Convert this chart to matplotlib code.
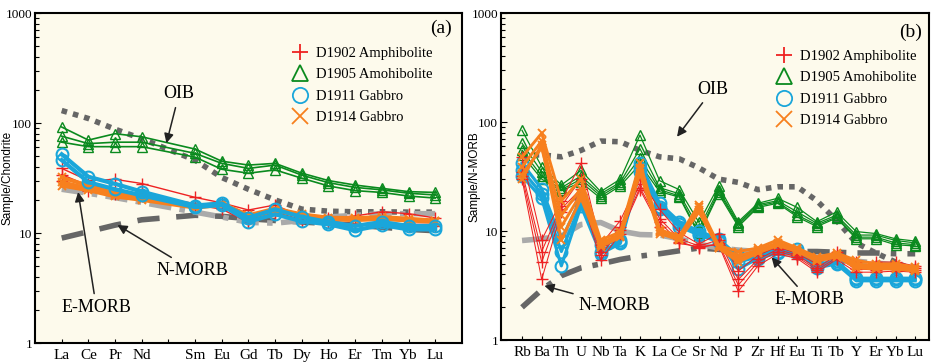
import numpy as np
import matplotlib
matplotlib.use("Agg")
import matplotlib.pyplot as plt
from matplotlib.lines import Line2D

plt.rcParams['font.family'] = ['Liberation Serif', 'DejaVu Serif']

# ---- panel (a): chondrite normalised REE ----
ree_labels = ["La", "Ce", "Pr", "Nd", "Sm", "Eu", "Gd", "Tb", "Dy", "Ho", "Er", "Tm", "Yb", "Lu"]
ree_pos = [0, 1, 2, 3, 5, 6, 7, 8, 9, 10, 11, 12, 13, 14]   # Pm gap at 4

ree_d1902 = [[38.7, 30, 30.8, 28.2, 21.1, 18.8, 16.2, 18, 14, 13.7, 14.3, 15.6, 15, 13.7],
             [34, 27, 25, 22.5, 18.5, 17.5, 13, 15.5, 13.2, 12.8, 12, 12.5, 12, 12],
             [30, 24, 22.5, 21.5, 18, 16.5, 12.5, 15, 13, 12.5, 12, 12.3, 11.8, 11.5]]
ree_d1905 = [[92, 70, 80, 75, 58, 45, 41.5, 43, 35, 30, 27.3, 25.5, 23.8, 23.4],
             [76, 65, 67, 67, 53, 43, 38.7, 41.5, 33.6, 28.7, 26, 24.7, 23, 22.2],
             [67, 61, 61, 61, 49, 38, 35, 37.5, 31.5, 26.8, 24.3, 23.4, 21.7, 20.8]]
ree_d1911 = [[52, 32.5, 28, 23.8, 17.8, 18.6, 13.8, 16.4, 14, 12.6, 11.6, 12.6, 11.6, 11.6],
             [46, 29, 25, 22, 17.2, 18, 12.7, 14.8, 12.8, 12, 10.6, 11.8, 10.8, 10.8]]
ree_d1914 = [[32, 27, 23, 21, 17.5, 18.7, 14.5, 16.7, 14.8, 13.8, 13.7, 14, 13.5, 13],
             [29, 25.5, 22, 20.5, 17.2, 18.2, 14, 16.2, 14.5, 13.5, 13.3, 13.6, 13.2, 12.8],
             [27, 24.5, 21.5, 20, 17, 18, 13.8, 16, 14.2, 13.3, 13.1, 13.4, 13, 12.6]]

ree_oib = [130, 110, 88, 72, 46, 32, 25, 20, 16.5, 15.8, 15.6, 15.6, 15.5, 15.5]
ree_emorb = [25, 23, 21, 19, 15.5, 14, 12.5, 12.3, 13, 14, 14.5, 15, 15, 15]
ree_nmorb = [9, 10.3, 11.8, 13.2, 14.5, 14.2, 13.5, 13, 12.6, 12.2, 11.8, 11.3, 10.8, 10.5]

# ---- panel (b): N-MORB normalised trace elements ----
te_labels = ["Rb", "Ba", "Th", "U", "Nb", "Ta", "K", "La", "Ce", "Sr", "Nd",
             "P", "Zr", "Hf", "Eu", "Ti", "Tb", "Y", "Er", "Yb", "Lu"]

te_d1902 = [[48, 8.3, 19, 42, 7.5, 12.5, 30, 15.8, 9.7, 7.6, 9.5, 4.3, 6, 7.2, 6.2, 5, 6.5, 5.2, 5.2, 5.2, 4.8],
            [35, 6.5, 17, 30, 6.5, 11, 27, 13, 8.5, 7.3, 8.3, 3.6, 5.5, 6.8, 6, 4.6, 6, 4.8, 4.8, 4.8, 4.6],
            [32, 5.2, 16, 24.5, 6, 10.2, 25, 12, 8, 7, 7.7, 3.2, 5.2, 6.5, 5.8, 4.4, 5.7, 4.5, 4.4, 4.5, 4.4],
            [30, 3.6, 15, 22, 5.4, 9.5, 24, 11, 7.7, 7.2, 7.5, 2.8, 4.8, 6.2, 5.6, 4.2, 5.5, 4.2, 4.2, 4.3, 4.2]]
te_d1905 = [[84, 39, 26.5, 36, 23, 30, 76, 29, 24, 12, 26, 12.2, 18, 20, 16.5, 12.2, 15, 9.9, 9.5, 8.5, 8.1],
            [64, 35, 25, 32, 22, 28, 57, 25, 22, 10.6, 24, 11.8, 17.5, 19, 15, 11.8, 14, 9.2, 9.2, 8.2, 7.8],
            [55, 32, 24, 30, 21, 27, 47, 24, 21, 9.6, 23, 11.4, 17, 18.5, 14, 11.4, 13.5, 8.8, 8.8, 7.8, 7.5],
            [50, 30, 23.5, 28, 20, 26, 41, 23, 20.5, 9.2, 22, 11, 16.5, 18, 13.5, 11, 13.2, 8.5, 8.5, 7.5, 7.3]]
te_d1911 = [[42, 24.5, 8.3, 20, 7.4, 8.3, 42, 18, 12.2, 10, 8.5, 5.9, 6, 6.8, 6.8, 5, 5.3, 3.7, 3.7, 3.7, 3.7],
            [36, 22, 6.5, 18, 6.5, 8, 38, 16.5, 11.5, 9.5, 8.2, 5.2, 5.8, 6.5, 6.5, 4.8, 5.1, 3.6, 3.6, 3.6, 3.6],
            [32, 20, 4.8, 17, 6.2, 7.7, 35, 16, 11, 9.2, 8, 4.5, 5.6, 6.3, 6.3, 4.6, 5, 3.5, 3.5, 3.5, 3.5]]
te_d1914 = [[48, 79, 19, 30, 8.3, 9.8, 42, 10.3, 9, 17.5, 7.4, 6.5, 7, 8.3, 7, 5.8, 6.3, 5.4, 5, 5, 4.7],
            [39, 67, 14, 24.5, 7.8, 9.3, 38, 10, 8.7, 16.5, 7.2, 5.9, 6.7, 7.8, 6.8, 5.6, 6.1, 5, 4.8, 4.8, 4.5],
            [33, 58, 11, 22, 7.4, 9, 36, 9.8, 8.5, 15.5, 7, 5.5, 6.5, 7.6, 6.6, 5.4, 6, 4.8, 4.6, 4.6, 4.4],
            [30, 62, 8.3, 20, 7.2, 8.8, 34, 9.5, 8.3, 15, 7, 5.2, 6.3, 7.4, 6.5, 5.3, 5.8, 4.6, 4.5, 4.5, 4.3]]

te_oib = [50, 50, 48, 55, 67, 66, 55, 48, 46, 38, 30, 28, 24, 25.5, 25.5, 19, 12.5, 7.8, 6.3, 5.2, 4.3]
te_emorb = [8.2, 8.5, 9, 11.5, 12, 10, 9.3, 9.2, 8.5, 7.6, 7, 6.7, 6.5, 6.3, 6, 5.8, 5.5, 5.3, 5.1, 4.9, 4.7]
te_nmorb = [2, 2.9, 3.9, 4.6, 5, 5.5, 5.9, 6.2, 6.6, 7, 6.8, 6.6, 6.6, 6.6, 6.5, 6.5, 6.4, 6.3, 6.3, 6.2, 6.2]

sample_names = ["D1902 Amphibolite", "D1905 Amohibolite", "D1911 Gabbro", "D1914 Gabbro"]
red, green, blue, orange = "#EE2222", "#0A8A1E", "#1AA6DA", "#F7801E"
cream = "#FDFAEC"

styles = [dict(color=red, marker="+", ms=8, lw=1.0, mew=1.0, mfc="none"),
          dict(color=green, marker="^", ms=7, lw=1.2, mew=1.0, mfc="none"),
          dict(color=blue, marker="o", ms=8.5, lw=3.0, mew=1.5, mfc="none"),
          dict(color=orange, marker="x", ms=6, lw=2.8, mew=1.4, mfc="none")]

dark = "#666666"
light = "#AAAAAA"

fig = plt.figure(figsize=(9.34, 3.63), dpi=100)
ax1 = fig.add_axes([0.0375, 0.055, 0.457, 0.909])
ax2 = fig.add_axes([0.5364, 0.063, 0.4582, 0.901])


def style_axes(ax, xpos, labels, xlim, ylabel, tag, tagpos, legpos, labx):
    ax.set_facecolor(cream)
    ax.set_yscale("log")
    ax.set_ylim(1, 1000)
    ax.set_xlim(*xlim)
    ax.set_xticks(xpos)
    ax.set_xticklabels(labels, fontsize=11)
    ax.set_yticks([1, 10, 100, 1000])
    ax.set_yticklabels(["1", "10", "100", "1000"], fontsize=9.5)
    ax.tick_params(axis="both", which="both", direction="in", length=3, width=0.8, pad=4)
    ax.tick_params(axis="y", which="major", pad=2, length=4)
    ax.set_ylabel(ylabel, family=["Liberation Sans", "DejaVu Sans"], fontsize=8.5)
    ax.yaxis.set_label_coords(labx, 0.5)
    for s in ax.spines.values():
        s.set_linewidth(1.5)
    ax.text(tagpos[0], tagpos[1], tag, transform=ax.transAxes, ha="right", va="center", fontsize=14)
    handles = [Line2D([], [], linestyle="none", marker=st["marker"], color=st["color"],
                      ms=11, mew=1.3, mfc="none") for st in styles]
    ax.legend(handles, sample_names, loc="upper right", bbox_to_anchor=legpos,
              frameon=False, fontsize=10.5, handletextpad=0.4, labelspacing=0.55,
              borderaxespad=0.0, handlelength=1.4)


def ref_lines(ax, x, oib, emorb, nmorb, emorb_ls, nmorb_ls, emorb_col, nmorb_col):
    ax.plot(x, oib, color=dark, lw=4, linestyle=(0, (1, 1.1)), dash_capstyle="butt", zorder=1)
    ax.plot(x, nmorb, color=nmorb_col, lw=4, linestyle=nmorb_ls, dash_capstyle="butt", zorder=1)
    ax.plot(x, emorb, color=emorb_col, lw=4, linestyle=emorb_ls, dash_capstyle="butt", zorder=1)


# panel a
ref_lines(ax1, ree_pos, ree_oib, ree_emorb, ree_nmorb,
          (0, (4, 1.5, 1, 1.5)), (0, (4, 3)), light, dark)
for group, st in zip([ree_d1905, ree_d1902, ree_d1914, ree_d1911],
                     [styles[1], styles[0], styles[3], styles[2]]):
    for vals in group:
        ax1.plot(ree_pos, vals, zorder=3, **st)
style_axes(ax1, list(range(15)), ["La", "Ce", "Pr", "Nd", "", "Sm", "Eu", "Gd", "Tb", "Dy",
                                   "Ho", "Er", "Tm", "Yb", "Lu"], (-1, 15), "Sample/Chondrite", "(a)",
           (0.977, 0.955), (0.945, 0.915), -0.05)

ann = dict(arrowprops=dict(arrowstyle="-|>", color="#222222", lw=1.1, mutation_scale=14),
           fontsize=13, ha="center", va="center")
ax1.annotate("OIB", xy=(3.9, 62), xytext=(4.4, 185), **ann)
ax1.annotate("N-MORB", xy=(2.0, 12.2), xytext=(4.9, 4.6), **ann)
ax1.annotate("E-MORB", xy=(0.6, 25), xytext=(1.3, 2.1), **ann)

# panel b
te_pos = list(range(len(te_labels)))
ref_lines(ax2, te_pos, te_oib, te_emorb, te_nmorb,
          (0, (5, 1.5)), (0, (4, 2, 1, 2)), light, dark)
for group, st in zip([te_d1905, te_d1911, te_d1902, te_d1914],
                     [styles[1], styles[2], styles[0], styles[3]]):
    for vals in group:
        ax2.plot(te_pos, vals, zorder=3, **dict(st, lw=st["lw"] * 0.75))
style_axes(ax2, te_pos, te_labels, (-1.07, 20.7), "Sample/N-MORB", "(b)",
           (0.984, 0.94), (0.985, 0.905), -0.048)
ax2.annotate("OIB", xy=(7.8, 70), xytext=(9.7, 200), **ann)
ax2.annotate("N-MORB", xy=(1.0, 3.2), xytext=(4.7, 2.1), **ann)
ax2.annotate("E-MORB", xy=(12.6, 6.0), xytext=(14.6, 2.35), **ann)

fig.savefig("out.png", dpi=100)
